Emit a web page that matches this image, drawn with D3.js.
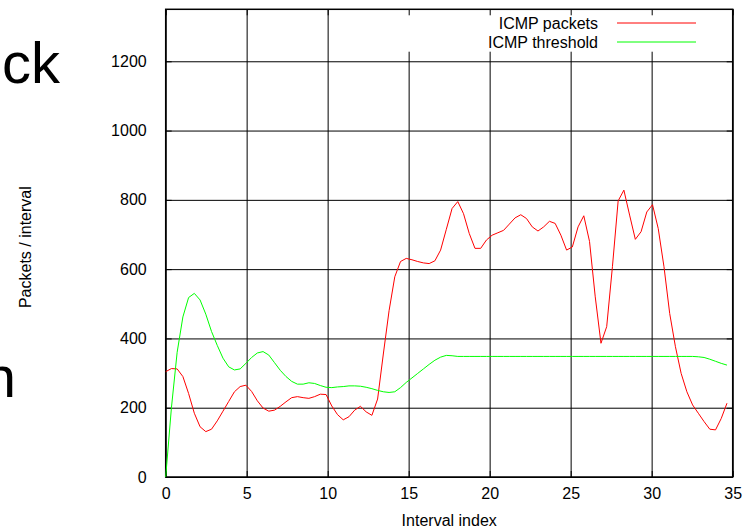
<!DOCTYPE html>
<html>
<head>
<meta charset="utf-8">
<script src="https://cdn.jsdelivr.net/npm/d3@7"></script>
<style>
  body { margin: 0; background: #fff; }
  svg { display: block; font-family: "Liberation Sans", Arial, Helvetica, sans-serif; }
</style>
</head>
<body>
<svg id="chart" width="751" height="529"></svg>
<script>
// samples are taken every 35/99 of an interval
const step = 35 / 99;

const icmpPackets = [
  304, 313, 312, 290, 241, 184, 145, 131, 138, 162,
  190, 218, 246, 261, 265, 247, 220, 199, 190, 193,
  204, 217, 229, 232, 229, 227, 232, 239, 238, 205,
  180, 165, 174, 193, 204, 188, 178, 225, 355, 480,
  578, 622, 631, 627, 622, 618, 616, 624, 655, 715,
  775, 795, 760, 703, 660, 660, 684, 698, 705, 712,
  730, 748, 757, 746, 722, 710, 722, 738, 732, 698,
  655, 664, 722, 754, 680, 520, 386, 434, 607, 797,
  828, 756, 686, 708, 765, 786, 717, 607, 472, 376,
  299, 246, 208, 184, 160, 138, 136, 169, 213
];

const icmpThreshold = [
  0, 200, 360, 462, 518, 530, 511, 470, 420, 380,
  343, 318, 309, 312, 328, 345, 358, 362, 352, 330,
  308, 290, 276, 268, 268, 272, 270, 264, 259, 258,
  260, 261, 263, 263, 262, 259, 255, 250, 246, 244,
  246, 258, 273, 286, 299, 312, 325, 337, 346, 351,
  350, 348, 348, 348, 348, 348, 348, 348, 348, 348,
  348, 348, 348, 348, 348, 348, 348, 348, 348, 348,
  348, 348, 348, 348, 348, 348, 348, 348, 348, 348,
  348, 348, 348, 348, 348, 348, 348, 348, 348, 348,
  348, 348, 348, 347, 345, 340, 334, 328, 323
];

const xTicks = [0, 5, 10, 15, 20, 25, 30, 35];
const yTicks = [0, 200, 400, 600, 800, 1000, 1200];

const series = [
  {name: "ICMP packets", values: icmpPackets, color: "#ff0000"},
  {name: "ICMP threshold", values: icmpThreshold, color: "#00ff00"}
];

const svg = d3.select("#chart");
const pLeft = 165.7, pRight = 732.7, pTop = 9.3, pBottom = 477;

const x = d3.scaleLinear().domain([0, 35]).range([pLeft, pRight]);
const y = d3.scaleLinear().domain([0, 1350]).range([pBottom, pTop]);

// slide text cut off at the left edge
svg.append("text").attr("x", 60).attr("y", 83)
  .attr("text-anchor", "end").style("font-size", "58px").text("ck");
svg.append("text").attr("x", 16).attr("y", 397)
  .attr("text-anchor", "end").style("font-size", "58px").text("n");

// grid
svg.append("g")
  .attr("transform", `translate(0,${pBottom})`)
  .call(d3.axisBottom(x).tickValues(xTicks).tickSize(-(pBottom - pTop)).tickFormat(""))
  .call(g => g.select(".domain").remove())
  .selectAll("line").attr("stroke", "#555").attr("stroke-width", 1.5);

svg.append("g")
  .attr("transform", `translate(${pLeft},0)`)
  .call(d3.axisLeft(y).tickValues(yTicks).tickSize(-(pRight - pLeft)).tickFormat(""))
  .call(g => g.select(".domain").remove())
  .selectAll("line").attr("stroke", "#000").attr("stroke-width", 1);

// key area is cleared
svg.append("rect")
  .attr("x", 400).attr("y", pTop).attr("width", pRight - 400).attr("height", 51.7 - pTop)
  .attr("fill", "#fff");

// inward ticks along the top and right
svg.append("g").attr("transform", `translate(0,${pTop})`)
  .call(d3.axisTop(x).tickValues(xTicks).tickSize(-6).tickFormat(""))
  .call(g => g.select(".domain").remove());
svg.append("g").attr("transform", `translate(${pRight},0)`)
  .call(d3.axisRight(y).tickValues(yTicks).tickSize(-6).tickFormat(""))
  .call(g => g.select(".domain").remove());

// tick labels
svg.append("g")
  .attr("transform", `translate(${pLeft},0)`)
  .call(d3.axisLeft(y).tickValues(yTicks).tickSize(-6).tickPadding(19).tickFormat(d3.format("d")))
  .call(g => g.select(".domain").remove())
  .call(g => g.selectAll("text").style("font-size", "16px").attr("fill", "#000").attr("x", -19));

svg.append("g")
  .attr("transform", `translate(0,${pBottom})`)
  .call(d3.axisBottom(x).tickValues(xTicks).tickSize(-6).tickPadding(11))
  .call(g => g.select(".domain").remove())
  .call(g => g.selectAll("text").style("font-size", "16px").attr("fill", "#000").attr("y", 11));

// frame
svg.append("rect")
  .attr("x", pLeft).attr("y", pTop).attr("width", pRight - pLeft).attr("height", pBottom - pTop)
  .attr("fill", "none").attr("stroke", "#000").attr("stroke-width", 1.5);

// data
const line = d3.line()
  .x((d, i) => x(i * step))
  .y(d => y(d));

svg.selectAll("path.series")
  .data(series)
  .enter()
  .append("path")
  .attr("class", "series")
  .attr("d", d => line(d.values))
  .attr("fill", "none")
  .attr("stroke", d => d.color)
  .attr("stroke-width", 1);

// key
const key = svg.append("g");
series.forEach((s, i) => {
  const ky = 23 + i * 19;
  key.append("text")
    .attr("x", 598).attr("y", ky).attr("dy", "0.35em")
    .attr("text-anchor", "end").style("font-size", "16px")
    .text(s.name);
  key.append("line")
    .attr("x1", 617).attr("x2", 696).attr("y1", ky).attr("y2", ky)
    .attr("stroke", s.color).attr("stroke-width", 1);
});

// axis titles
svg.append("text")
  .attr("x", (pLeft + pRight) / 2).attr("y", 526)
  .attr("text-anchor", "middle").style("font-size", "16px")
  .text("Interval index");

svg.append("text")
  .attr("transform", `translate(31,${(pTop + pBottom) / 2 + 4}) rotate(-90)`)
  .attr("text-anchor", "middle").style("font-size", "16px")
  .text("Packets / interval");
</script>
</body>
</html>
